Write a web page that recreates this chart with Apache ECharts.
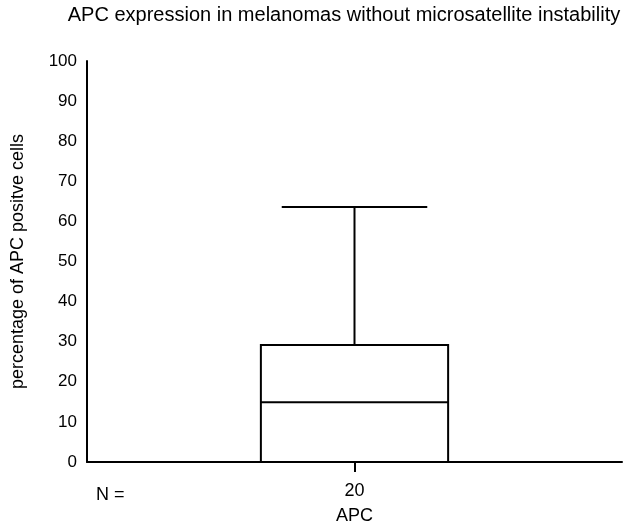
<!DOCTYPE html>
<html>
<head>
<meta charset="utf-8">
<script src="https://cdn.jsdelivr.net/npm/echarts@6/dist/echarts.min.js"></script>
<style>html,body{margin:0;padding:0;background:#fff;}#c{width:624px;height:530px;}</style>
</head>
<body>
<div id="c"></div>
<script>
const groupNames = ['APC'];
const nCounts = [20];
// [min, Q1, median, Q3, max]
const boxStats = [[0, 0, 14.9, 29.2, 63.6]];
const yTicks = [0, 10, 20, 30, 40, 50, 60, 70, 80, 90, 100];

const chart = echarts.init(document.getElementById('c'));
const FONT = 'Liberation Sans, Arial, Helvetica, sans-serif';
const seriesData = boxStats.map((s, i) => [i].concat(s));

chart.setOption({
  animation: false,
  backgroundColor: '#fff',
  title: {
    text: 'APC expression in melanomas without microsatellite instability',
    left: 339, top: 0, textAlign: 'center',
    textStyle: {fontFamily: FONT, fontSize: 20, fontWeight: 'normal', color: '#000'}
  },
  grid: {left: 87, right: 2, top: 61, bottom: 65, containLabel: false},
  xAxis: {
    type: 'category',
    data: nCounts.map(String),
    name: groupNames[0],
    nameLocation: 'middle',
    nameGap: 45,
    nameTextStyle: {fontFamily: FONT, fontSize: 18, color: '#000'},
    axisLine: {lineStyle: {color: '#000', width: 2}},
    axisTick: {show: true, alignWithLabel: true, length: 10, lineStyle: {color: '#000', width: 2}},
    axisLabel: {fontFamily: FONT, fontSize: 18, color: '#000', margin: 20},
    splitLine: {show: false},
    z: 10
  },
  yAxis: {
    type: 'value', min: yTicks[0], max: yTicks[yTicks.length - 1], interval: yTicks[1] - yTicks[0],
    name: 'percentage of APC positve cells',
    nameLocation: 'middle', nameGap: 60,
    nameTextStyle: {fontFamily: FONT, fontSize: 18, color: '#000'},
    axisLine: {show: true, lineStyle: {color: '#000', width: 2}},
    axisTick: {show: false},
    axisLabel: {fontFamily: FONT, fontSize: 17, color: '#000', margin: 10},
    splitLine: {show: false}
  },
  graphic: [{
    type: 'text', left: 96, top: 486,
    style: {text: 'N =', font: '18px ' + FONT, fill: '#000'}
  }],
  series: [{
    type: 'custom',
    data: seriesData,
    encode: {x: 0, y: [1, 2, 3, 4, 5]},
    renderItem: function (params, api) {
      const idx = api.value(0);
      const bandW = api.size([1, 0])[0];
      const boxHalf = bandW * 0.175;
      const capHalf = bandW * 0.136;
      const pMin = api.coord([idx, api.value(1)]);
      const pQ1 = api.coord([idx, api.value(2)]);
      const pMed = api.coord([idx, api.value(3)]);
      const pQ3 = api.coord([idx, api.value(4)]);
      const pMax = api.coord([idx, api.value(5)]);
      const cx = pMed[0];
      const st = {stroke: '#000', lineWidth: 2, fill: null};
      return {
        type: 'group',
        children: [
          {type: 'rect', shape: {x: cx - boxHalf, y: pQ3[1], width: boxHalf * 2, height: pQ1[1] - pQ3[1]}, style: {stroke: '#000', lineWidth: 2, fill: '#fff'}},
          {type: 'line', shape: {x1: cx - boxHalf, y1: pMed[1], x2: cx + boxHalf, y2: pMed[1]}, style: st},
          {type: 'line', shape: {x1: cx, y1: pQ3[1], x2: cx, y2: pMax[1]}, style: st},
          {type: 'line', shape: {x1: cx - capHalf, y1: pMax[1], x2: cx + capHalf, y2: pMax[1]}, style: st},
          {type: 'line', shape: {x1: cx, y1: pQ1[1], x2: cx, y2: pMin[1]}, style: st}
        ]
      };
    }
  }]
});
</script>
</body>
</html>
